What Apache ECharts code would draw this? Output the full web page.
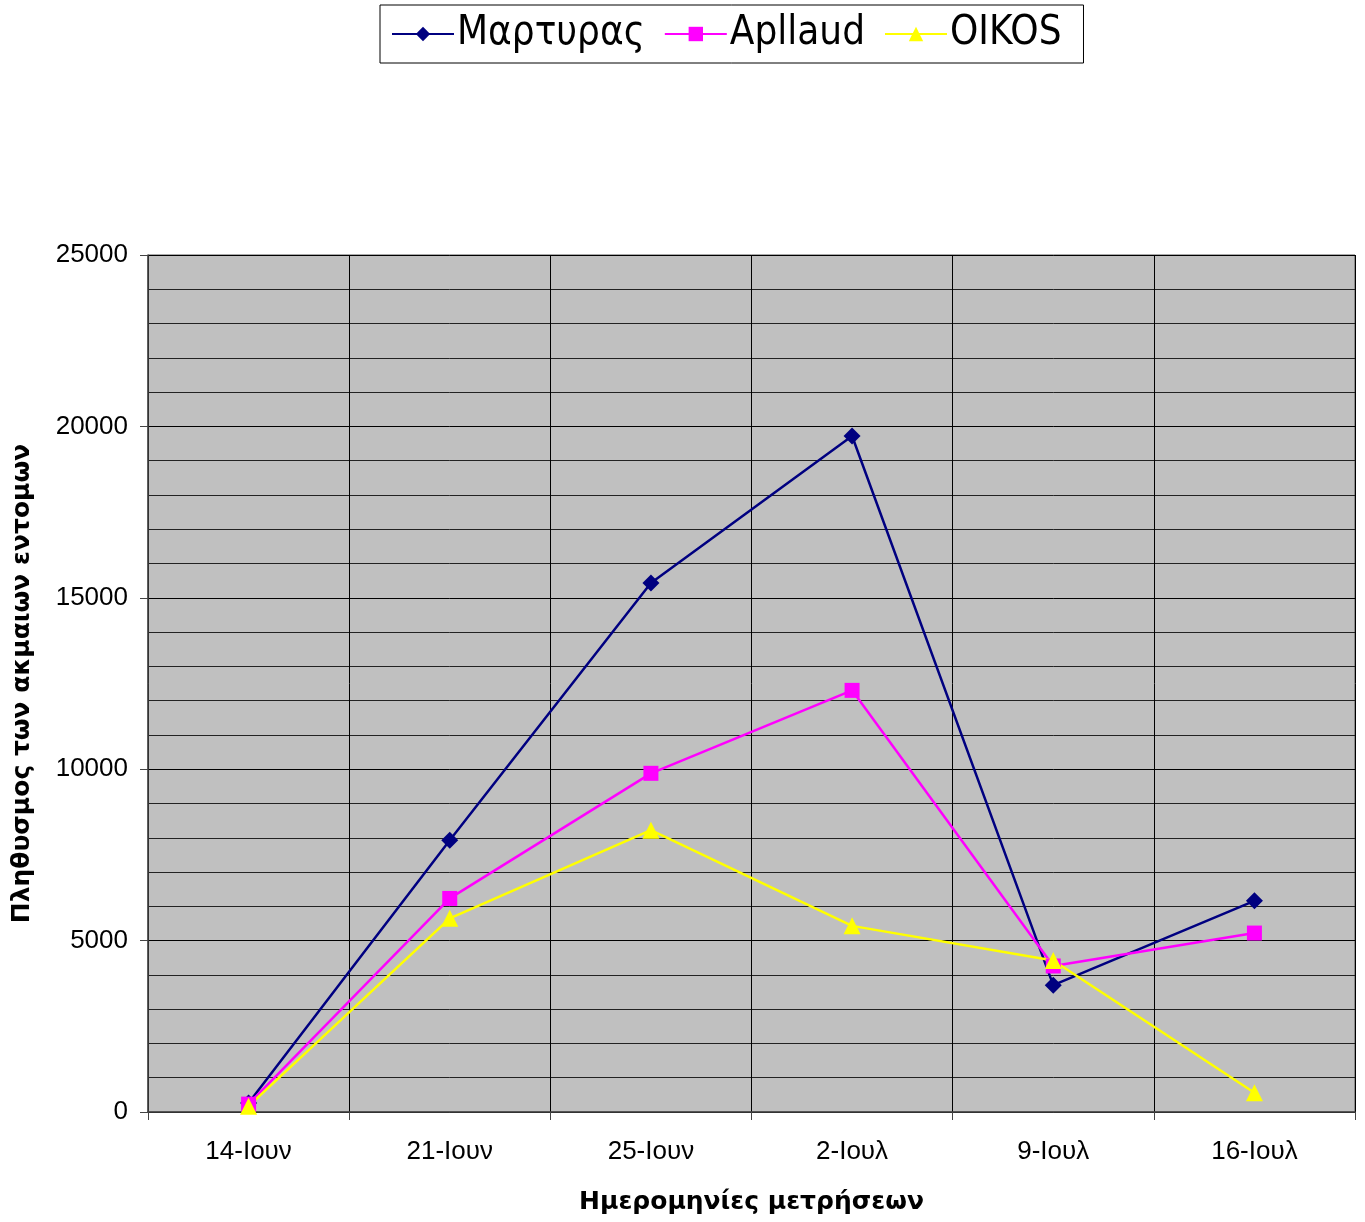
<!DOCTYPE html>
<html><head><meta charset="utf-8">
<script src="https://cdn.jsdelivr.net/npm/echarts@6/dist/echarts.min.js"></script>
<style>html,body{margin:0;padding:0;background:#fff}#c{width:1365px;height:1222px}</style>
</head><body><div id="c"></div>
<script>
const categories = ['14-Ιουν','21-Ιουν','25-Ιουν','2-Ιουλ','9-Ιουλ','16-Ιουλ'];
const martyras = [260, 7930, 15430, 19720, 3700, 6160];
const apllaud = [230, 6230, 9880, 12300, 4260, 5220];
const oikos = [170, 5650, 8220, 5430, 4420, 560];
const seriesNames = ['Μαρτυρας','Apllaud','OIKOS'];
const yTicks = [0, 5000, 10000, 15000, 20000, 25000];

const F = '"Liberation Sans", Arial, sans-serif';
const FD = '"DejaVu Sans", Verdana, sans-serif';
const FL = '"DejaVu Sans Condensed", "DejaVu Sans", sans-serif';
const chart = echarts.init(document.getElementById('c'));
chart.setOption({
  animation: false,
  backgroundColor: '#fff',
  legend: {
    top: 5, left: 380,
    itemWidth: 62, itemHeight: 18, itemGap: 19,
    padding: [9, 22, 9, 11],
    borderColor: '#000', borderWidth: 1,
    textStyle: { fontFamily: FL, fontSize: 40, color: '#000', padding: [0,0,0,-2] },
    data: seriesNames
  },
  grid: { left: 148, right: 10, top: 255, bottom: 110, show: true, backgroundColor: '#c0c0c0', borderColor: '#555', borderWidth: 1, containLabel: false, outerBoundsMode: 'none' },
  xAxis: {
    type: 'category', data: categories, boundaryGap: true,
    name: 'Ημερομηνίες μετρήσεων', nameLocation: 'middle', nameGap: 78,
    nameTextStyle: { fontFamily: FD, fontSize: 25, fontWeight: 'bold', color: '#000' },
    axisLine: { lineStyle: { color: '#444', width: 1.5 } },
    axisTick: { show: true, length: 8, lineStyle: { color: '#444' } },
    axisLabel: { fontFamily: F, fontSize: 26, color: '#000', margin: 27 },
    splitLine: { show: true, lineStyle: { color: '#000', width: 1 } }
  },
  yAxis: {
    type: 'value', min: yTicks[0], max: yTicks[yTicks.length-1], interval: 5000,
    name: 'Πληθυσμος των ακμαιων εντομων', nameLocation: 'middle', nameGap: 113,
    nameTextStyle: { fontFamily: FD, fontSize: 25, fontWeight: 'bold', color: '#000' },
    axisLine: { show: true, lineStyle: { color: '#444', width: 1.5 } },
    axisTick: { show: true, length: 8, lineStyle: { color: '#444' } },
    axisLabel: { fontFamily: F, fontSize: 26, color: '#000', margin: 20, formatter: v => String(v) },
    splitLine: { show: true, lineStyle: { color: '#000', width: 1 } },
    minorTick: { show: false, splitNumber: 5 },
    minorSplitLine: { show: true, lineStyle: { color: '#222', width: 1 } }
  },
  series: [
    { name: seriesNames[0], type: 'line', data: martyras, symbol: 'diamond', symbolSize: 17,
      lineStyle: { color: '#000080', width: 2.5 }, itemStyle: { color: '#000080' } },
    { name: seriesNames[1], type: 'line', data: apllaud, symbol: 'rect', symbolSize: 15,
      lineStyle: { color: '#ff00ff', width: 2.5 }, itemStyle: { color: '#ff00ff' } },
    { name: seriesNames[2], type: 'line', data: oikos, symbol: 'triangle', symbolSize: 17,
      lineStyle: { color: '#ffff00', width: 2.5 }, itemStyle: { color: '#ffff00' } }
  ]
});
</script></body></html>
